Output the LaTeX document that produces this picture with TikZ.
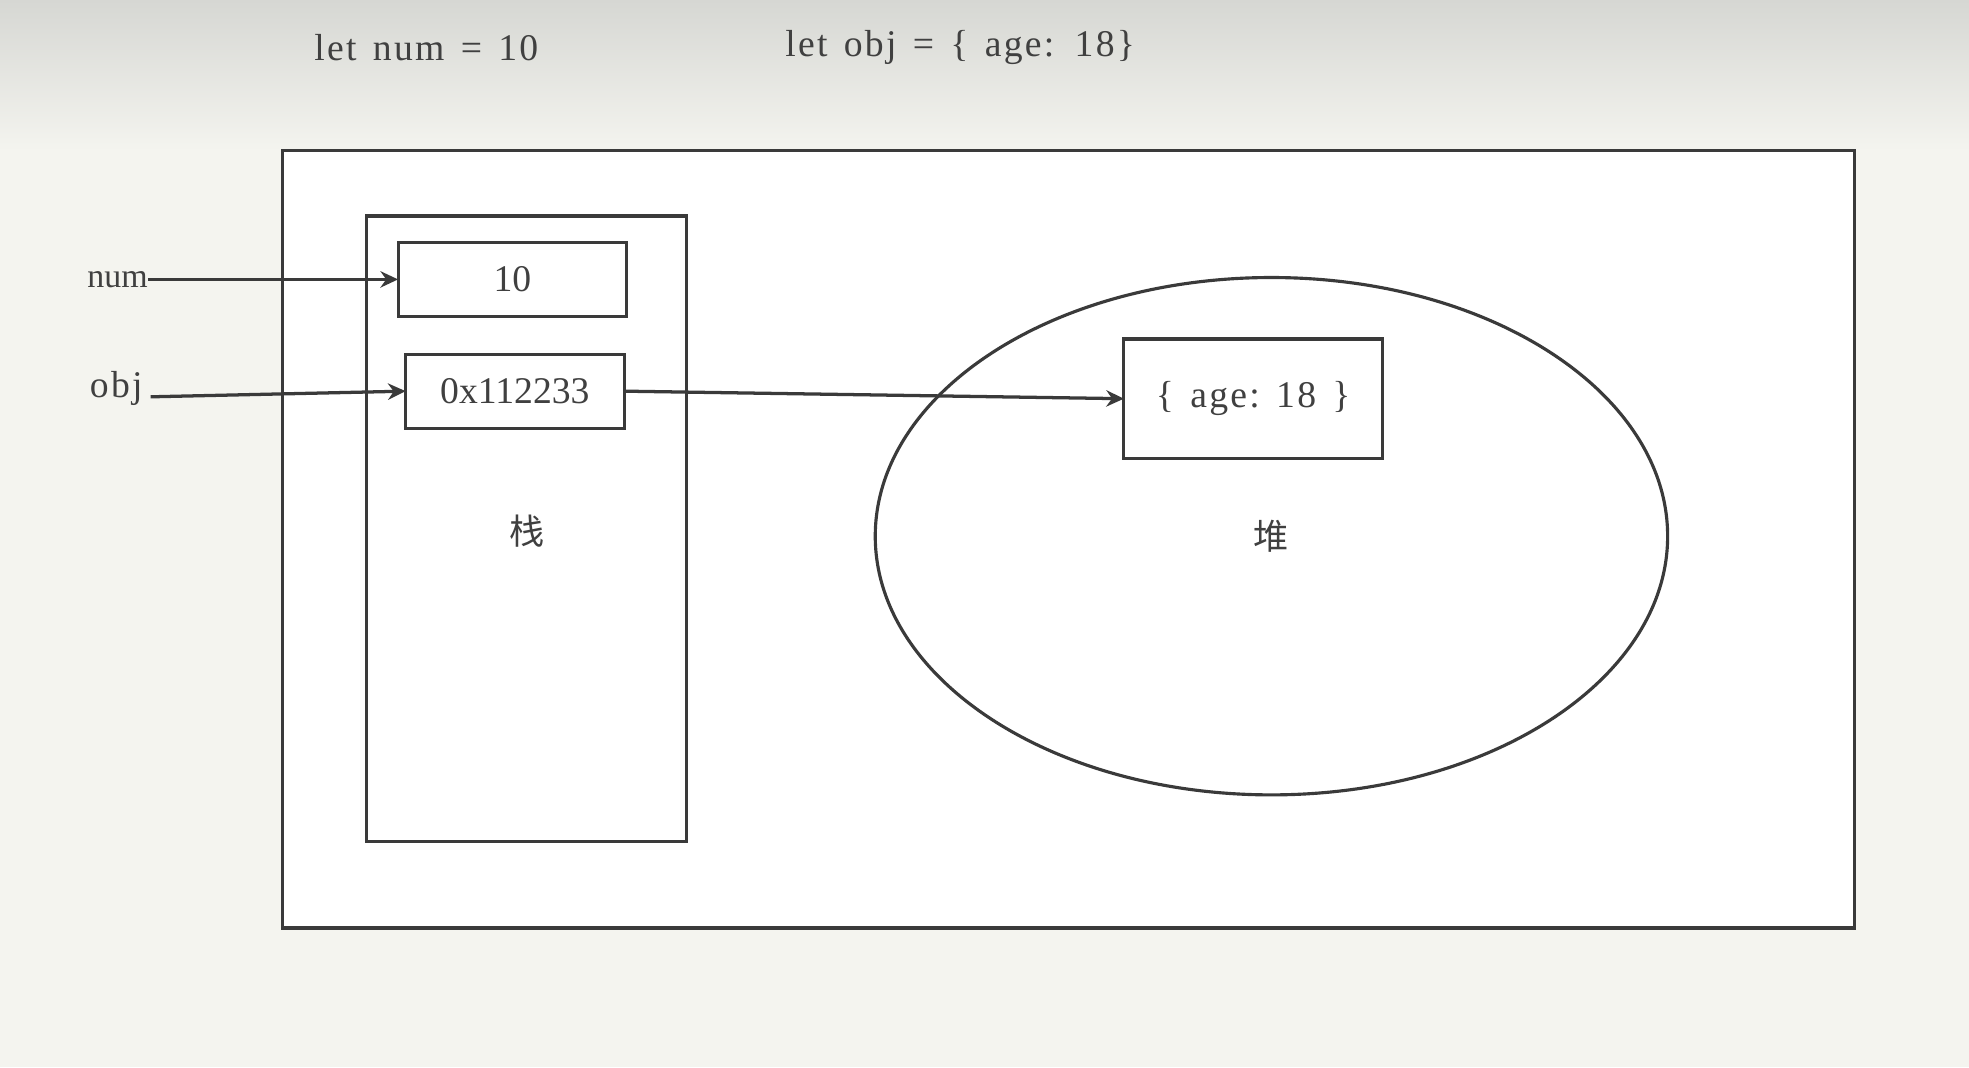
\documentclass[tikz,border=0pt]{standalone}
\usepackage{fontspec}
\setmainfont{Liberation Serif}
\newfontfamily\spaced[LetterSpace=6,WordSpace=1.4]{Liberation Serif}
\newfontfamily\cjk{Noto Sans CJK SC}
\usetikzlibrary{shapes.geometric,arrows.meta}
\definecolor{ink}{HTML}{3A3A3A}
\definecolor{txt}{HTML}{404040}
\definecolor{bgc}{HTML}{F4F4EF}
\definecolor{topc}{HTML}{D6D7D3}
\tikzset{
  box/.style={draw=ink, line width=1.25pt, fill=white, inner sep=0pt, outer sep=0pt, rectangle},
  lbl/.style={text=txt, font=\spaced\fontsize{15}{18}\selectfont, inner sep=0pt},
  plainlbl/.style={text=txt, font=\fontsize{15}{18}\selectfont, inner sep=0pt},
  cjklbl/.style={text=txt, font=\cjk\fontsize{14}{16}\selectfont, inner sep=0pt},
  arr/.style={draw=ink, line width=1.3pt, -{Stealth[length=7pt,width=6.5pt]}}
}
\begin{document}
\begin{tikzpicture}[x=0.5pt,y=-0.5pt]
\useasboundingbox (0,0) rectangle (1568,850);
\fill[bgc] (0,0) rectangle (1568,850);
\shade[top color=topc, bottom color=bgc] (0,0) rectangle (1568,120);
% code lines
\node[lbl, anchor=west] (code1) at (250,38) {let num = 10};
\node[lbl, anchor=west] (code2) at (625,38) {let obj = \{ age: 18\}};
% outer frame
\node[box, minimum width=626pt, minimum height=309.5pt] (frame) at (851,429.5) {};
% stack
\node[box, minimum width=127.5pt, minimum height=249pt] (stack) at (419.5,421) {};
\node[box, minimum width=91pt, minimum height=29.5pt, plainlbl] (v10) at (408,222.5) {10};
\node[box, minimum width=87pt, minimum height=29.5pt, plainlbl] (vaddr) at (410,311.5) {0x112233};
\node[cjklbl] (stacklbl) at (420,423) {栈};
% heap
\node[draw=ink, line width=1.25pt, ellipse, minimum width=315.5pt, minimum height=206pt, inner sep=0pt] (heap) at (1012.5,427) {};
\node[box, minimum width=103pt, minimum height=47.5pt, lbl] (hobj) at (998,317.5) {\{ age:\ 18 \}};
\node[cjklbl] (heaplbl) at (1012,427) {堆};
% variables
\node[plainlbl, font=\fontsize{13.5}{16}\selectfont, anchor=east] (num) at (118,222.5) {num};
\node[lbl, anchor=east] (obj) at (114,309) {obj};
% arrows
\draw[arr] (num.east) -- (v10.west);
\draw[arr] (obj.east) ++(6,7) coordinate (objs) -- (vaddr.west);
\draw[arr] (vaddr.east) -- (hobj.west);
\end{tikzpicture}
\end{document}
